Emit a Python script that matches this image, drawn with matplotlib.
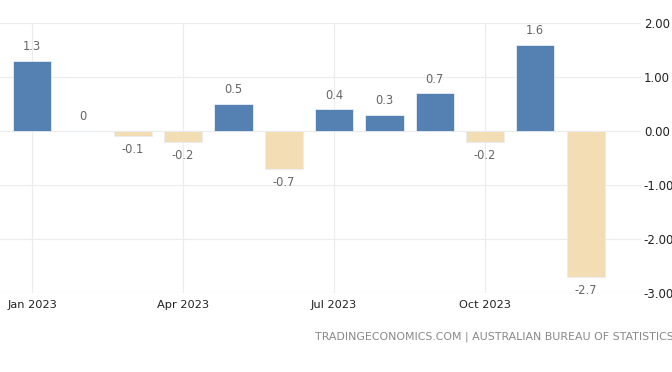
import matplotlib.pyplot as plt

# monthly change, Jan 2023 .. Dec 2023
months = ['Jan', 'Feb', 'Mar', 'Apr', 'May', 'Jun',
          'Jul', 'Aug', 'Sep', 'Oct', 'Nov', 'Dec']
values = [1.3, 0, -0.1, -0.2, 0.5, -0.7, 0.4, 0.3, 0.7, -0.2, 1.6, -2.7]
tick_pos = [0, 3, 6, 9]
tick_labels = ['Jan 2023', 'Apr 2023', 'Jul 2023', 'Oct 2023']
y_ticks = [2, 1, 0, -1, -2, -3]

blue = '#5481b1'
beige = '#f2ddb5'

fig = plt.figure(figsize=(6.72, 3.72), dpi=100)
ax = fig.add_axes([0.0, 1 - 293 / 372, 641 / 672, (293 - 23) / 372])

x = list(range(len(values)))
colors = [blue if v >= 0 else beige for v in values]
ax.bar(x, values, width=0.76, color=colors, edgecolor='#e8eef5', linewidth=0.6, zorder=3)

# value labels
for xi, v in zip(x, values):
    label = '0' if v == 0 else f'{v:g}'
    if v >= 0:
        ax.annotate(label, (xi, v), xytext=(0, 5.5), textcoords='offset points',
                    ha='center', va='bottom', fontsize=8.3, color='#666666')
    else:
        ax.annotate(label, (xi, v), xytext=(0, -5), textcoords='offset points',
                    ha='center', va='top', fontsize=8.3, color='#666666')

ax.set_xlim(-0.64, 12.1)
ax.set_ylim(-3, 2)
ax.set_xticks(tick_pos)
ax.set_xticklabels(tick_labels)
ax.set_yticks(y_ticks)
ax.set_yticklabels([f'{t:.2f}' for t in y_ticks])

ax.yaxis.tick_right()
ax.tick_params(axis='y', length=0, pad=2, labelsize=8.5, labelcolor='#222222')
ax.tick_params(axis='x', length=0, pad=5, labelsize=8.2, labelcolor='#222222')
for lab in ax.get_yticklabels():
    lab.set_horizontalalignment('left')

ax.grid(True, color='#ececec', linewidth=0.8, zorder=0)
for s in ax.spines.values():
    s.set_visible(False)

fig.text(1.003, 1 - 337 / 372, 'TRADINGECONOMICS.COM | AUSTRALIAN BUREAU OF STATISTICS',
         ha='right', va='center', fontsize=7.9, color='#888888')

fig.savefig('out.png', dpi=100)
